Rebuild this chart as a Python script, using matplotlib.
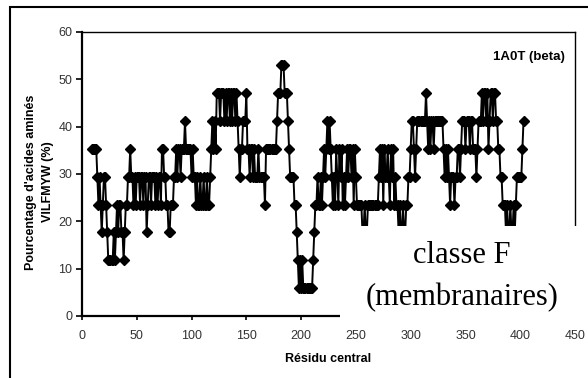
import numpy as np
import matplotlib.pyplot as plt
from matplotlib.patches import Rectangle

plt.rcParams['font.family'] = ['Liberation Sans', 'DejaVu Sans']

# residus hydrophobes (V, I, L, F, M, Y, W) comptes sur une fenetre glissante
window = 17
first_residue = 9
counts = [
    6, 6, 6, 6, 6, 5, 4, 5, 4, 3,   # 9
    4, 5, 5, 4, 3, 2, 2, 2, 2, 2,   # 19
    3, 2, 3, 4, 3, 4, 4, 3, 3, 2,   # 29
    3, 4, 4, 5, 5, 6, 5, 5, 4, 5,   # 39
    4, 5, 5, 5, 4, 5, 5, 4, 5, 5,   # 49
    3, 4, 5, 5, 4, 5, 5, 5, 4, 5,   # 59
    4, 5, 5, 4, 6, 6, 5, 5, 4, 4,   # 69
    3, 3, 4, 4, 4, 5, 5, 6, 5, 6,   # 79
    6, 5, 6, 6, 6, 7, 6, 6, 6, 6,   # 89
    6, 5, 6, 5, 5, 4, 5, 4, 4, 5,   # 99
    4, 4, 5, 4, 4, 5, 4, 4, 5, 6,   # 109
    7, 6, 7, 6, 8, 8, 8, 7, 8, 8,   # 119
    8, 7, 8, 7, 8, 8, 7, 8, 7, 8,   # 129
    8, 7, 8, 7, 6, 5, 6, 6, 7, 7,   # 139
    7, 8, 6, 6, 5, 6, 6, 5, 6, 5,   # 149
    5, 5, 6, 5, 5, 5, 5, 5, 4, 6,   # 159
    6, 6, 6, 6, 6, 6, 6, 6, 6, 7,   # 169
    8, 8, 8, 9, 9, 9, 8, 8, 8, 7,   # 179
    6, 5, 5, 5, 5, 4, 4, 3, 2, 1,   # 189
    2, 1, 2, 1, 1, 1, 1, 1, 1, 1,   # 199
    1, 1, 2, 3, 4, 4, 5, 4, 4, 5,   # 209
    4, 5, 6, 5, 6, 7, 6, 7, 6, 5,   # 219
    4, 5, 4, 6, 5, 4, 6, 5, 6, 4,   # 229
    5, 4, 5, 6, 5, 6, 6, 5, 6, 4,   # 239
    6, 5, 4, 4, 4, 4, 4, 3, 3, 4,   # 249
    3, 3, 4, 4, 4, 4, 4, 4, 4, 4,   # 259
    4, 4, 5, 6, 5, 6, 4, 6, 5, 5,   # 269
    6, 5, 4, 6, 5, 6, 4, 5, 4, 4,   # 279
    3, 4, 3, 3, 4, 3, 3, 4, 4, 5,   # 289
    5, 6, 7, 7, 6, 5, 6, 7, 7, 7,   # 299
    7, 7, 7, 7, 7, 8, 7, 6, 7, 6,   # 309
    7, 7, 6, 7, 7, 7, 7, 7, 7, 7,   # 319
    7, 6, 5, 6, 5, 6, 5, 4, 5, 5,   # 329
    5, 4, 5, 5, 6, 6, 5, 6, 7, 7,   # 339
    7, 6, 7, 7, 7, 6, 7, 7, 6, 6,   # 349
    6, 5, 6, 7, 7, 7, 8, 7, 8, 8,   # 359
    7, 8, 6, 7, 8, 8, 7, 8, 8, 7,   # 369
    7, 6, 6, 5, 5, 4, 4, 4, 3, 4,   # 379
    3, 3, 4, 3, 3, 4, 3, 4, 5, 5,   # 389
    5, 5, 5, 6, 7,                  # 399
]
residues = np.arange(first_residue, first_residue + len(counts))
pct = np.array(counts) * 100.0 / window

fig = plt.figure(figsize=(5.88, 3.78), dpi=100)
ax = fig.add_axes([82 / 588, 1 - 316 / 378, 493 / 588, 284 / 378])

ax.plot(residues, pct, color='black', lw=1.4, marker='D', ms=4.6,
        mfc='black', mec='black')

ax.set_xlim(0, 450)
ax.set_ylim(0, 60)
ax.set_xticks(np.arange(0, 451, 50))
ax.set_yticks(np.arange(0, 61, 10))
ax.tick_params(axis='x', direction='out', length=3, width=1.2, pad=7,
               labelsize=9, labelcolor='#333333')
ax.tick_params(axis='y', direction='out', length=4, width=1.2, pad=3,
               labelsize=9, labelcolor='#333333')
for side in ['left', 'bottom']:
    ax.spines[side].set_linewidth(1.6)
for side in ['top', 'right']:
    ax.spines[side].set_linewidth(1.0)

ax.set_xlabel('Résidu central', fontsize=9, fontweight='bold', labelpad=8)
fig.text(39.5 / 588, 1 - 182 / 378, "Pourcentage d'acides aminés\nVILFMYW (%)",
         rotation=90, ha='center', va='center', fontsize=9, fontweight='bold',
         multialignment='center', linespacing=1.45)
ax.text(0.98, 0.912, '1A0T (beta)', transform=ax.transAxes, ha='right',
        va='center', fontsize=9.5, fontweight='bold')

# cadre exterieur
fig.add_artist(Rectangle((10 / 588, -0.1), 1.2, 0.1 + 1 - 7 / 378,
                         transform=fig.transFigure, fill=False,
                         edgecolor='black', lw=1.5, zorder=1))

# encart blanc avec la classe
fig.add_artist(Rectangle((340 / 588, 1 - 324 / 378), 0.5, 98 / 378,
                         transform=fig.transFigure, facecolor='white',
                         edgecolor='none', zorder=5))
fig.text(462 / 588, 1 - 263 / 378, 'classe F', family='Liberation Serif',
         fontsize=22, ha='center', va='baseline', zorder=6)
fig.text(462 / 588, 1 - 305 / 378, '(membranaires)', family='Liberation Serif',
         fontsize=22, ha='center', va='baseline', zorder=6)

fig.savefig('out.png', dpi=100)
